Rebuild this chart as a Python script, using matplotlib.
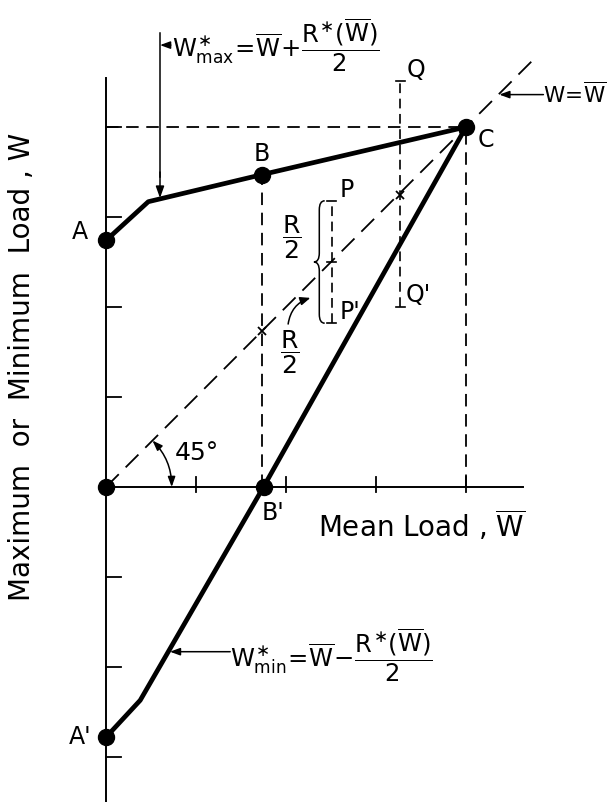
import matplotlib.pyplot as plt
from matplotlib.patches import FancyArrowPatch, PathPatch
from matplotlib.path import Path

plt.rcParams['font.family'] = 'DejaVu Sans'
plt.rcParams['mathtext.fontset'] = 'custom'
plt.rcParams['mathtext.rm'] = 'DejaVu Sans'
plt.rcParams['mathtext.it'] = 'DejaVu Sans'
plt.rcParams['mathtext.bf'] = 'DejaVu Sans:bold'
plt.rcParams['lines.scale_dashes'] = False

# upper envelope W*max : A -> knee -> B -> C
upper_x = [0.0, 0.47, 1.73, 4.0]
upper_y = [2.74, 3.17, 3.47, 4.0]
# lower envelope W*min : A' -> knee -> B' -> C
lower_x = [0.0, 0.38, 1.75, 4.0]
lower_y = [-2.78, -2.37, 0.0, 4.0]

# labelled points
dot_names = ['A', 'B', 'C', 'O', "B'", "A'"]
dot_x = [0.0, 1.73, 4.0, 0.0, 1.75, 0.0]
dot_y = [2.74, 3.47, 4.0, 0.0, 0.0, -2.78]

x_ticks = [1, 2, 3, 4]
y_ticks = [-3, -2, -1, 1, 2, 3, 4]

# scatter bars P-P' and Q-Q' (x, low, high)
bar_names = [("P", "P'"), ("Q", "Q'")]
bar_x = [2.51, 3.27]
bar_lo = [1.82, 2.0]
bar_hi = [3.18, 4.51]

line45_end = 4.75
dash = (0, (9, 5.5))

fig = plt.figure(figsize=(6.16, 8.02), dpi=100)
ax = fig.add_axes([0, 0, 1, 1])
ax.axis('off')
ax.set_xlim(-106 / 90, (616 - 106) / 90)
ax.set_ylim(-(802 - 487) / 90, 487 / 90)

# axes
ax.plot([0, 0], [-3.5, 4.55], color='k', lw=1.4)
ax.plot([0, 4.63], [0, 0], color='k', lw=1.4)
for t in y_ticks:
    ax.plot([0, 0.17], [t, t], color='k', lw=1.3)
for t in x_ticks:
    ax.plot([t, t], [-0.06, 0.11], color='k', lw=1.3)

# dashed guides
ax.plot([0, line45_end], [0, line45_end], color='k', lw=1.3, ls=(0, (13, 7)))
ax.plot([0, 4], [4, 4], color='k', lw=1.3, ls=dash)
ax.plot([4, 4], [0, 4], color='k', lw=1.3, ls=dash)
ax.plot([dot_x[1], dot_x[1]], [0, dot_y[1]], color='k', lw=1.3, ls=dash)

# envelopes
ax.plot(upper_x, upper_y, color='k', lw=3.4, solid_capstyle='round', solid_joinstyle='round')
ax.plot(lower_x, lower_y, color='k', lw=3.4, solid_capstyle='round', solid_joinstyle='round')
ax.plot(dot_x, dot_y, 'o', color='k', ms=11.5)

# scatter bars
for (top, bot), x, lo, hi in zip(bar_names, bar_x, bar_lo, bar_hi):
    ax.plot([x, x], [lo, hi], color='k', lw=1.2, ls=(0, (7, 4)))
    for y in (lo, hi):
        ax.plot([x - 0.05, x + 0.05], [y, y], color='k', lw=1.2)
    ax.text(x + 0.17, hi + 0.12, top, fontsize=17, ha='center', va='center')
    ax.text(x + 0.2, lo + 0.13, bot, fontsize=17, ha='center', va='center')
ax.plot([bar_x[0] - 0.05, bar_x[0] + 0.05], [2.5, 2.5], color='k', lw=1.2)
ax.plot([dot_x[1], bar_x[1]], [dot_x[1], bar_x[1] - 0.03], 'x', color='k', ms=6, mew=1.3)

# brace beside P-P'
bx, bw = 2.37, 0.06
verts = [(bx + bw, 3.18), (bx, 3.18), (bx, 3.08),
         (bx, 2.6), (bx, 2.5), (bx - bw, 2.5),
         (bx, 2.5), (bx, 2.4),
         (bx, 1.92), (bx, 1.82), (bx + bw, 1.82)]
codes = [Path.MOVETO, Path.CURVE3, Path.CURVE3,
         Path.LINETO, Path.CURVE3, Path.CURVE3,
         Path.CURVE3, Path.CURVE3,
         Path.LINETO, Path.CURVE3, Path.CURVE3]
ax.add_patch(PathPatch(Path(verts, codes), fill=False, lw=1.1, color='k'))
ax.text(2.06, 2.78, r'$\dfrac{R}{2}$', fontsize=18, ha='center', va='center')
ax.text(2.04, 1.5, r'$\dfrac{R}{2}$', fontsize=18, ha='center', va='center')
ax.add_patch(FancyArrowPatch((2.02, 1.78), (2.3, 2.11), connectionstyle='arc3,rad=-0.35',
                             arrowstyle='-|>,head_length=0.6,head_width=0.25',
                             mutation_scale=10, lw=1.1, color='k'))

# point labels
ax.text(-0.29, 2.83, 'A', fontsize=17, ha='center', va='center')
ax.text(-0.29, -2.78, "A'", fontsize=17, ha='center', va='center')
ax.text(1.73, 3.7, 'B', fontsize=17, ha='center', va='center')
ax.text(1.86, -0.29, "B'", fontsize=17, ha='center', va='center')
ax.text(4.22, 3.86, 'C', fontsize=17, ha='center', va='center')

# 45 degree arc
r = 0.73
ax.add_patch(FancyArrowPatch((r * 0.7071, r * 0.7071), (r, 0), connectionstyle='arc3,rad=-0.2',
                             arrowstyle='<|-|>,head_length=0.6,head_width=0.22',
                             mutation_scale=10, lw=1.1, color='k', shrinkA=0, shrinkB=0))
ax.text(1.01, 0.38, '45°', fontsize=18, ha='center', va='center')

# W*max annotation
ax.plot([0.6, 0.6], [5.04, 3.45], color='k', lw=1.1)
ax.add_patch(FancyArrowPatch((0.6, 3.5), (0.6, 3.21), arrowstyle='-|>,head_length=0.7,head_width=0.25',
                             mutation_scale=10, lw=1.1, color='k', shrinkA=0, shrinkB=0))
ax.add_patch(FancyArrowPatch((0.72, 4.91), (0.6, 4.91), arrowstyle='-|>,head_length=0.6,head_width=0.22',
                             mutation_scale=10, lw=1.1, color='k', shrinkA=0, shrinkB=0))
ax.text(0.73, 4.91, r'$W^{\ast}_{\rm max}\!=\!\overline{W}\!+\!\dfrac{R^{\ast}(\overline{W})}{2}$',
        fontsize=17.5, ha='left', va='center')

# W*min annotation
ax.add_patch(FancyArrowPatch((1.38, -1.83), (0.71, -1.83), arrowstyle='-|>,head_length=0.6,head_width=0.22',
                             mutation_scale=10, lw=1.1, color='k', shrinkA=0, shrinkB=0))
ax.text(1.38, -1.87, r'$W^{\ast}_{\rm min}\!=\!\overline{W}\!-\!\dfrac{R^{\ast}(\overline{W})}{2}$',
        fontsize=17.5, ha='left', va='center')

# W = W-bar annotation
ax.add_patch(FancyArrowPatch((4.86, 4.36), (4.37, 4.36), arrowstyle='-|>,head_length=0.6,head_width=0.22',
                             mutation_scale=10, lw=1.1, color='k', shrinkA=0, shrinkB=0))
ax.text(4.86, 4.36, r'$W\!=\!\overline{W}$', fontsize=15.5, ha='left', va='center')

# axis titles
ax.text(3.51, -0.43, r'Mean Load , $\overline{W}$', fontsize=20, ha='center', va='center')
ax.text(-0.93, 1.33, 'Maximum  or  Minimum  Load , W', fontsize=20, ha='center', va='center',
        rotation=90)

fig.savefig('out.png', dpi=100)
